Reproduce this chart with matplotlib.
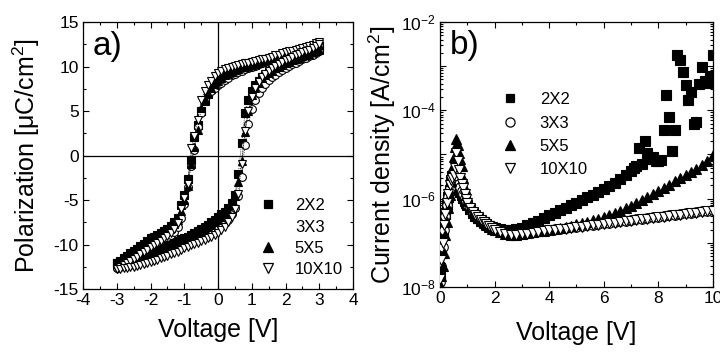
import matplotlib
matplotlib.use("Agg")
import matplotlib.pyplot as plt
from matplotlib.lines import Line2D
from matplotlib.ticker import MultipleLocator, LogLocator, FuncFormatter, NullFormatter

plt.rcParams['font.family'] = ['Liberation Sans', 'DejaVu Sans']
plt.rcParams['mathtext.fontset'] = 'custom'
plt.rcParams['mathtext.rm'] = 'Liberation Sans'
plt.rcParams['mathtext.it'] = 'Liberation Sans:italic'
plt.rcParams['axes.unicode_minus'] = False

# ---------------- panel a) : P-V hysteresis ----------------
VL = [-3.0, -2.9, -2.8, -2.7, -2.6, -2.5, -2.4, -2.3, -2.2, -2.1,
      -2.0, -1.9, -1.8, -1.7, -1.6, -1.5, -1.4, -1.3, -1.2, -1.1,
      -1.0, -0.9, -0.8, -0.7, -0.6, -0.5, -0.4, -0.3, -0.2, -0.1,
      0.0, 0.1, 0.2, 0.3, 0.4, 0.5, 0.6, 0.7, 0.8, 0.9,
      1.0, 1.1, 1.2, 1.3, 1.4, 1.5, 1.6, 1.7, 1.8, 1.9,
      2.0, 2.1, 2.2, 2.3, 2.4, 2.5, 2.6, 2.7, 2.8, 2.9, 3.0]

P2_up = [-12.1, -11.8, -11.5, -11.3, -11.0, -10.7, -10.5, -10.2, -9.9, -9.6,
         -9.3, -9.1, -8.9, -8.7, -8.5, -8.3, -7.9, -7.5, -7.0, -5.6,
         -4.4, -2.6, -0.5, 2.1, 3.4, 5.0, 6.1, 6.9, 7.5, 8.0,
         8.3, 8.6, 8.9, 9.1, 9.3, 9.5, 9.65, 9.8, 9.9, 10.0,
         10.1, 10.2, 10.35, 10.5, 10.6, 10.7, 10.85, 11.0, 11.1, 11.2,
         11.3, 11.4, 11.5, 11.6, 11.7, 11.8, 11.9, 12.0, 12.1, 12.2, 12.3]
P2_dn = [-12.1, -12.0, -11.85, -11.7, -11.55, -11.4, -11.25, -11.1, -10.95, -10.8,
         -10.65, -10.5, -10.4, -10.25, -10.1, -9.95, -9.8, -9.7, -9.55, -9.4,
         -9.25, -9.1, -8.9, -8.7, -8.5, -8.3, -8.05, -7.8, -7.5, -7.2,
         -6.9, -6.6, -6.3, -5.9, -5.3, -4.4, -2.1, 1.4, 4.8, 6.2,
         7.2, 7.9, 8.4, 8.8, 9.1, 9.4, 9.6, 9.85, 10.05, 10.25,
         10.45, 10.6, 10.75, 10.9, 11.05, 11.2, 11.35, 11.5, 11.65, 11.8, 11.95]

P3_up = [-12.6, -12.35, -12.1, -11.9, -11.65, -11.4, -11.15, -10.9, -10.65, -10.4,
         -10.15, -9.9, -9.7, -9.5, -9.3, -9.1, -8.9, -8.6, -8.0, -7.0,
         -5.5, -3.5, -1.2, 0.6, 3.2, 4.8, 6.2, 6.9, 7.3, 7.6,
         7.9, 8.2, 8.5, 8.75, 9.0, 9.2, 9.4, 9.55, 9.7, 9.85,
         10.0, 10.1, 10.25, 10.4, 10.5, 10.65, 10.8, 10.9, 11.05, 11.15,
         11.3, 11.4, 11.5, 11.6, 11.7, 11.8, 11.9, 12.0, 12.1, 12.2, 12.3]
P3_dn = [-12.6, -12.55, -12.45, -12.35, -12.25, -12.15, -12.0, -11.9, -11.75, -11.6,
         -11.5, -11.35, -11.2, -11.05, -10.9, -10.75, -10.6, -10.45, -10.3, -10.15,
         -10.0, -9.85, -9.7, -9.55, -9.4, -9.2, -9.0, -8.8, -8.6, -8.4,
         -8.2, -7.9, -7.6, -7.2, -6.6, -5.9, -4.6, -2.4, 1.2, 3.5,
         5.2, 6.2, 7.0, 7.6, 8.05, 8.45, 8.8, 9.1, 9.35, 9.6,
         9.85, 10.05, 10.25, 10.45, 10.65, 10.85, 11.0, 11.15, 11.35, 11.55, 11.75]

P5_up = [-12.2, -11.9, -11.6, -11.4, -11.1, -10.8, -10.6, -10.3, -10.0, -9.7,
         -9.4, -9.2, -9.0, -8.8, -8.6, -8.4, -8.1, -7.7, -7.2, -6.2,
         -5.0, -3.4, -1.0, 1.0, 2.9, 5.3, 6.3, 7.0, 7.6, 8.0,
         8.4, 8.7, 9.0, 9.2, 9.4, 9.6, 9.75, 9.9, 10.0, 10.1,
         10.2, 10.3, 10.45, 10.6, 10.7, 10.8, 10.95, 11.1, 11.2, 11.3,
         11.4, 11.5, 11.6, 11.7, 11.8, 11.9, 12.0, 12.1, 12.2, 12.3, 12.4]
P5_dn = [-12.2, -12.1, -12.0, -11.85, -11.7, -11.55, -11.4, -11.3, -11.15, -11.0,
         -10.85, -10.7, -10.6, -10.45, -10.3, -10.15, -10.0, -9.9, -9.75, -9.6,
         -9.45, -9.3, -9.1, -8.9, -8.7, -8.5, -8.3, -8.05, -7.8, -7.5,
         -7.2, -6.9, -6.6, -6.2, -5.6, -4.6, -3.0, -0.6, 2.6, 5.0,
         6.8, 7.6, 8.2, 8.7, 9.0, 9.3, 9.55, 9.8, 10.0, 10.2,
         10.4, 10.55, 10.7, 10.85, 11.0, 11.15, 11.3, 11.45, 11.6, 11.75, 11.9]

P10_up = [-12.75, -12.5, -12.3, -12.1, -11.85, -11.6, -11.35, -11.1, -10.85, -10.6,
          -10.3, -10.05, -9.8, -9.55, -9.3, -9.0, -8.7, -8.2, -7.6, -6.0,
          -4.8, -3.2, 0.8, 2.2, 4.0, 6.2, 7.2, 7.9, 8.4, 8.9,
          9.3, 9.5, 9.7, 9.85, 10.0, 10.1, 10.2, 10.3, 10.4, 10.45,
          10.5, 10.6, 10.7, 10.8, 10.9, 11.0, 11.1, 11.25, 11.35, 11.5,
          11.6, 11.7, 11.8, 11.9, 12.0, 12.1, 12.2, 12.3, 12.45, 12.6, 12.75]
P10_dn = [-12.75, -12.72, -12.68, -12.6, -12.55, -12.5, -12.4, -12.3, -12.2, -12.1,
          -12.0, -11.85, -11.7, -11.55, -11.4, -11.25, -11.1, -10.95, -10.8, -10.6,
          -10.4, -10.25, -10.1, -9.95, -9.8, -9.6, -9.45, -9.3, -9.1, -8.9,
          -8.7, -8.4, -8.0, -7.5, -6.9, -6.0, -4.3, -1.0, 2.8, 5.0,
          6.6, 7.6, 8.3, 8.8, 9.2, 9.5, 9.8, 10.05, 10.3, 10.5,
          10.7, 10.9, 11.1, 11.25, 11.4, 11.6, 11.75, 11.9, 12.1, 12.3, 12.5]

# ---------------- panel b) : J-V ----------------
VR = [0.0, 0.05, 0.1, 0.15, 0.2, 0.25, 0.3, 0.35, 0.4, 0.45, 0.5, 0.55, 0.6, 0.65,
      0.7, 0.75, 0.8, 0.85, 0.9, 0.95, 1.0,
      1.1, 1.2, 1.3, 1.4, 1.5, 1.6, 1.7, 1.8, 1.9, 2.0,
      2.2, 2.4, 2.6, 2.8, 3.0, 3.2, 3.4, 3.6, 3.8, 4.0, 4.2, 4.4, 4.6, 4.8, 5.0,
      5.2, 5.4, 5.6, 5.8, 6.0, 6.2, 6.4, 6.6, 6.8, 7.0, 7.2, 7.4, 7.6, 7.8, 8.0,
      8.2, 8.4, 8.6, 8.8, 9.0, 9.2, 9.4, 9.6, 9.8, 10.0]

VR_2x2 = [0.0, 0.05, 0.1, 0.15, 0.2, 0.25, 0.3, 0.35, 0.4, 0.45, 0.5, 0.55, 0.6, 0.65,
          0.7, 0.75, 0.8, 0.85, 0.9, 0.95, 1.0,
          1.1, 1.2, 1.3, 1.4, 1.5, 1.6, 1.7, 1.8, 1.9, 2.0,
          2.2, 2.4, 2.6, 2.8, 3.0, 3.2, 3.4, 3.6, 3.8, 4.0, 4.2, 4.4, 4.6, 4.8, 5.0,
          5.2, 5.4, 5.6, 5.8, 6.0, 6.2, 6.4, 6.6, 6.8, 7.0,
          7.1, 7.2, 7.3, 7.4, 7.5, 7.6, 7.7, 7.8, 7.9, 8.0,
          8.1, 8.2, 8.3, 8.4, 8.5, 8.6, 8.7, 8.8, 8.9, 9.0,
          9.1, 9.2, 9.3, 9.4, 9.5, 9.6, 9.7, 9.8, 9.9, 10.0]

J2 = [2e-8, 6e-8, 1.5e-7, 3e-7, 4.5e-7, 7e-7, 1.1e-6, 1.6e-6, 2.5e-6, 3.2e-6, 3e-6,
      2.6e-6, 2.2e-6, 1.9e-6, 1.6e-6, 1.4e-6, 1.2e-6, 1.05e-6, 9e-7, 8e-7, 7e-7,
      5.8e-7, 4.8e-7, 4.1e-7, 3.6e-7, 3.2e-7, 2.9e-7, 2.65e-7, 2.45e-7, 2.3e-7, 2.2e-7,
      2.1e-7, 2.0e-7, 2.0e-7, 2.1e-7, 2.2e-7, 2.5e-7, 2.8e-7, 3.2e-7, 3.6e-7, 4.2e-7,
      4.8e-7, 5.4e-7, 6.2e-7, 7.1e-7, 8.1e-7, 9.3e-7, 1.07e-6, 1.23e-6, 1.41e-6, 1.66e-6,
      1.95e-6, 2.3e-6, 2.8e-6, 3.5e-6, 4.2e-6,
      5e-6, 5.5e-6, 1.4e-5, 6e-6, 2e-5, 1.1e-5, 8e-6, 9e-6, 7e-6, 7e-6,
      7.5e-6, 3.5e-5, 2.2e-4, 7e-5, 1.2e-5, 3.5e-5, 1.8e-3, 1.4e-3, 7.5e-4, 3.7e-4,
      1.7e-4, 2.6e-4, 5e-5, 5.5e-5, 4e-4, 9.5e-4, 4.5e-4, 4.2e-4, 6e-4, 1.8e-3]

J3 = [1.3e-8, 3e-8, 8e-8, 2e-7, 4e-7, 7e-7, 1.1e-6, 1.7e-6, 2.3e-6, 2.8e-6, 3.2e-6,
      3.6e-6, 3.4e-6, 2.8e-6, 2.2e-6, 1.8e-6, 1.5e-6, 1.25e-6, 1.05e-6, 9e-7, 7.5e-7,
      6e-7, 4.9e-7, 4.2e-7, 3.6e-7, 3.2e-7, 2.8e-7, 2.5e-7, 2.3e-7, 2.1e-7, 1.95e-7,
      1.8e-7, 1.62e-7, 1.55e-7, 1.55e-7, 1.6e-7, 1.67e-7, 1.75e-7, 1.83e-7, 1.88e-7, 1.96e-7,
      2.02e-7, 2.1e-7, 2.16e-7, 2.25e-7, 2.31e-7, 2.4e-7, 2.48e-7, 2.58e-7, 2.65e-7, 2.76e-7,
      2.84e-7, 2.96e-7, 3.05e-7, 3.18e-7, 3.27e-7, 3.41e-7, 3.5e-7, 3.66e-7, 3.75e-7, 3.92e-7,
      4.02e-7, 4.2e-7, 4.3e-7, 4.5e-7, 4.62e-7, 4.83e-7, 4.95e-7, 5.17e-7, 5.3e-7, 5.55e-7]

J5 = [1.1e-8, 1.8e-8, 3e-8, 6e-8, 1.5e-7, 3e-7, 6e-7, 1.2e-6, 2.5e-6, 5e-6, 9e-6,
      1.5e-5, 2.2e-5, 1.6e-5, 1.1e-5, 8e-6, 5.5e-6, 3e-6, 1.7e-6, 1.2e-6, 9e-7,
      6.5e-7, 5e-7, 4.2e-7, 3.6e-7, 3.1e-7, 2.75e-7, 2.5e-7, 2.3e-7, 2.1e-7, 2.0e-7,
      1.78e-7, 1.58e-7, 1.51e-7, 1.51e-7, 1.58e-7, 1.66e-7, 1.74e-7, 1.82e-7, 1.9e-7, 2.0e-7,
      2.09e-7, 2.19e-7, 2.29e-7, 2.45e-7, 2.63e-7, 2.82e-7, 3.02e-7, 3.24e-7, 3.47e-7, 3.8e-7,
      4.17e-7, 4.68e-7, 5.25e-7, 6.03e-7, 6.92e-7, 7.94e-7, 9.33e-7, 1.1e-6, 1.29e-6, 1.51e-6,
      1.78e-6, 2.09e-6, 2.45e-6, 2.88e-6, 3.39e-6, 3.98e-6, 4.68e-6, 5.75e-6, 7.24e-6, 9.55e-6]

J10 = [1.5e-8, 4e-8, 1e-7, 2.5e-7, 4.5e-7, 8e-7, 1.3e-6, 2e-6, 2.6e-6, 3e-6, 3.5e-6,
       5e-6, 1.1e-5, 7e-6, 4.5e-6, 3e-6, 2.2e-6, 1.7e-6, 1.3e-6, 1e-6, 8e-7,
       6.2e-7, 5e-7, 4.3e-7, 3.8e-7, 3.3e-7, 2.9e-7, 2.6e-7, 2.35e-7, 2.15e-7, 2.0e-7,
       1.74e-7, 1.58e-7, 1.51e-7, 1.51e-7, 1.55e-7, 1.62e-7, 1.7e-7, 1.78e-7, 1.82e-7, 1.91e-7,
       1.95e-7, 2.04e-7, 2.09e-7, 2.19e-7, 2.24e-7, 2.34e-7, 2.4e-7, 2.51e-7, 2.57e-7, 2.69e-7,
       2.75e-7, 2.88e-7, 2.95e-7, 3.09e-7, 3.16e-7, 3.31e-7, 3.39e-7, 3.55e-7, 3.63e-7, 3.8e-7,
       3.89e-7, 4.07e-7, 4.17e-7, 4.37e-7, 4.47e-7, 4.68e-7, 4.79e-7, 5.01e-7, 5.13e-7, 5.37e-7]

labels = ['2X2', '3X3', '5X5', '10X10']
styles = {
    '2X2': dict(marker='s', mfc='black', mec='black', ms=5.2),
    '3X3': dict(marker='o', mfc='white', mec='black', ms=5.6),
    '5X5': dict(marker='^', mfc='black', mec='black', ms=6.0),
    '10X10': dict(marker='v', mfc='white', mec='black', ms=6.0),
}

fig = plt.figure(figsize=(7.2, 3.54), dpi=100)
axA = fig.add_axes([0.1153, 0.1836, 0.375, 0.754])
axB = fig.add_axes([0.6111, 0.1893, 0.379, 0.7486])

loops = {'2X2': (P2_up, P2_dn), '3X3': (P3_up, P3_dn),
         '5X5': (P5_up, P5_dn), '10X10': (P10_up, P10_dn)}

axA.axhline(0, color='black', lw=0.9, zorder=1)
axA.axvline(0, color='black', lw=0.9, zorder=1)
for lab in labels:
    st = styles[lab]
    for br in loops[lab]:
        axA.plot(VL, br, linestyle=(0, (1, 1.5)), lw=0.6, color='black',
                 marker=st['marker'], mfc=st['mfc'], mec=st['mec'], ms=st['ms'],
                 mew=0.8, zorder=3)

axA.set_xlim(-4, 4)
axA.set_ylim(-15, 15)
axA.xaxis.set_major_locator(MultipleLocator(1))
axA.xaxis.set_minor_locator(MultipleLocator(0.5))
axA.yaxis.set_major_locator(MultipleLocator(5))
axA.yaxis.set_minor_locator(MultipleLocator(2.5))
axA.set_xlabel('Voltage [V]', fontsize=18)
axA.set_ylabel('Polarization [μC/cm$^2$]', fontsize=18)
axA.yaxis.set_label_coords(-0.152, 0.5)
axA.xaxis.set_label_coords(0.5, -0.11)
axA.text(0.035, 0.965, 'a)', transform=axA.transAxes, fontsize=24, va='top', ha='left')

series_R = {'2X2': (VR_2x2, J2), '3X3': (VR, J3), '5X5': (VR, J5), '10X10': (VR, J10)}
for lab in labels:
    st = styles[lab]
    x, y = series_R[lab]
    axB.plot(x, y, linestyle='none',
             marker=st['marker'], mfc=st['mfc'], mec=st['mec'], ms=st['ms'] + 1.3,
             mew=0.8, zorder=3)

axB.set_yscale('log')
axB.set_xlim(0, 10)
axB.set_ylim(1e-8, 1e-2)
axB.xaxis.set_major_locator(MultipleLocator(2))
axB.xaxis.set_minor_locator(MultipleLocator(1))
axB.yaxis.set_major_locator(LogLocator(base=10, numticks=20))
axB.yaxis.set_minor_locator(LogLocator(base=10, subs=[2, 3, 4, 5, 6, 7, 8, 9], numticks=20))
axB.yaxis.set_minor_formatter(NullFormatter())


def logfmt(v, pos):
    import math
    e = int(round(math.log10(v)))
    if e % 2 == 0:
        return r'$10^{%d}$' % e
    return ''


axB.yaxis.set_major_formatter(FuncFormatter(logfmt))
axB.set_xlabel('Voltage [V]', fontsize=18)
axB.set_ylabel('Current density [A/cm$^2$]', fontsize=18)
axB.yaxis.set_label_coords(-0.154, 0.5)
axB.xaxis.set_label_coords(0.5, -0.13)
axB.text(0.035, 0.97, 'b)', transform=axB.transAxes, fontsize=24, va='top', ha='left')

for ax in (axA, axB):
    ax.tick_params(which='both', direction='in', top=True, right=True, labelsize=12.5, width=0.8)
    ax.tick_params(which='major', length=4.5, pad=3)
    ax.tick_params(which='minor', length=2.5)
    for s in ax.spines.values():
        s.set_linewidth(0.9)


def handles(show_circle):
    hs = []
    for lab in labels:
        st = styles[lab]
        if lab == '3X3' and not show_circle:
            hs.append(Line2D([], [], linestyle='none', marker='None'))
        else:
            hs.append(Line2D([], [], linestyle='none', marker=st['marker'], mfc=st['mfc'],
                             mec=st['mec'], ms=st['ms'] + 1.0, mew=0.9))
    return hs


axA.legend(handles(False), labels, loc='upper left', bbox_to_anchor=(0.655, 0.34),
           frameon=False, fontsize=12, borderpad=0, handlelength=1.0,
           handletextpad=1.1, labelspacing=0.38, borderaxespad=0)
axB.legend(handles(True), labels, loc='upper left', bbox_to_anchor=(0.225, 0.735),
           frameon=False, fontsize=12, borderpad=0, handlelength=1.0,
           handletextpad=1.3, labelspacing=0.5, borderaxespad=0)

fig.savefig('out.png', dpi=100)
